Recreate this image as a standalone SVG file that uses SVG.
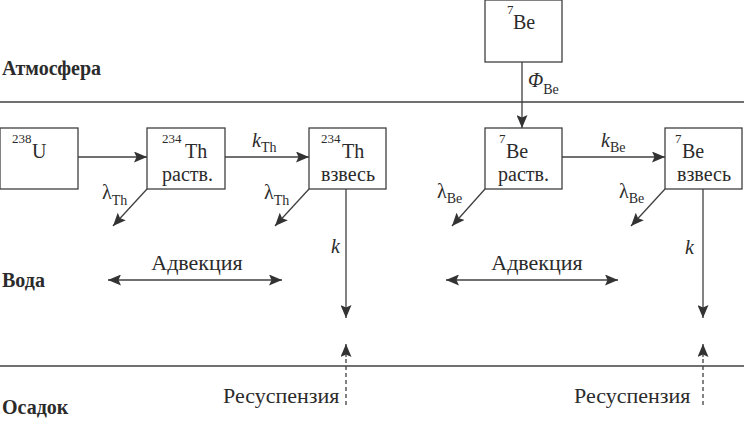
<svg xmlns="http://www.w3.org/2000/svg" width="744" height="431" viewBox="0 0 744 431" font-family="Liberation Serif, DejaVu Serif, serif">
<style>
text{fill:#2b2b2b}
.m{font-size:20px}
.sup{font-size:13px}
.sub{font-size:14px}
.lab{font-size:20px}
.big{font-size:22px}
.it{font-style:italic}
.zone{font-size:20px;font-weight:bold}
.box{fill:#fff;stroke:#404040;stroke-width:1.3}
.ln{stroke:#404040;stroke-width:1.3;fill:none}
.dash{stroke:#404040;stroke-width:1.3;fill:none;stroke-dasharray:4 3}
</style>
<defs>
<marker id="ah" viewBox="0 0 13 11" refX="13" refY="5.5" markerWidth="13" markerHeight="11" markerUnits="userSpaceOnUse" orient="auto-start-reverse">
<path d="M0,0 L13,5.5 L0,11 L2.5,5.5 z" fill="#333"/>
</marker>
</defs>

<g id="layers">
<line class="ln" x1="0" y1="102" x2="744" y2="102"/>
<line class="ln" x1="0" y1="366" x2="744" y2="366"/>
<text class="zone" x="2" y="75">Атмосфера</text>
<text class="zone" x="2" y="287">Вода</text>
<text class="zone" x="2" y="414">Осадок</text>
</g>

<g id="connectors">
<line class="ln" x1="78" y1="157" x2="147" y2="157" marker-end="url(#ah)"/>
<line class="ln" x1="225" y1="157" x2="309" y2="157" marker-end="url(#ah)"/>
<line class="ln" x1="147" y1="189" x2="113" y2="226" marker-end="url(#ah)"/>
<line class="ln" x1="309" y1="189" x2="275" y2="226" marker-end="url(#ah)"/>
<line class="ln" x1="346" y1="189" x2="346" y2="318" marker-end="url(#ah)"/>
<line class="ln" x1="522" y1="62" x2="522" y2="128" marker-end="url(#ah)"/>
<line class="ln" x1="562" y1="157" x2="665" y2="157" marker-end="url(#ah)"/>
<line class="ln" x1="485" y1="189" x2="452" y2="226" marker-end="url(#ah)"/>
<line class="ln" x1="665" y1="189" x2="631" y2="226" marker-end="url(#ah)"/>
<line class="ln" x1="703" y1="189" x2="703" y2="318" marker-end="url(#ah)"/>
<line class="ln" x1="108" y1="280" x2="282" y2="280" marker-start="url(#ah)" marker-end="url(#ah)"/>
<line class="ln" x1="446" y1="280" x2="618" y2="280" marker-start="url(#ah)" marker-end="url(#ah)"/>
<line class="dash" x1="346" y1="405" x2="346" y2="356"/>
<line class="ln" x1="346" y1="357" x2="346" y2="344" marker-end="url(#ah)"/>
<line class="dash" x1="703" y1="405" x2="703" y2="356"/>
<line class="ln" x1="703" y1="357" x2="703" y2="344" marker-end="url(#ah)"/>

<text class="lab it" x="252" y="147">k<tspan class="sub" font-style="normal" y="152">Th</tspan></text>
<text class="lab" x="102" y="199">λ<tspan class="sub" y="205">Th</tspan></text>
<text class="lab" x="264" y="199">λ<tspan class="sub" y="205">Th</tspan></text>
<text class="lab it" x="331" y="253">k</text>
<text class="lab it" x="528" y="87">Φ<tspan class="sub" font-style="normal" y="94">Be</tspan></text>
<text class="lab it" x="601" y="147">k<tspan class="sub" font-style="normal" y="152">Be</tspan></text>
<text class="lab" x="437" y="198">λ<tspan class="sub" y="203">Be</tspan></text>
<text class="lab" x="619" y="198">λ<tspan class="sub" y="203">Be</tspan></text>
<text class="lab it" x="685" y="254">k</text>
<text class="big" x="197" y="270" text-anchor="middle">Адвекция</text>
<text class="big" x="537" y="270" text-anchor="middle">Адвекция</text>
<text class="big" x="223" y="403">Ресуспензия</text>
<text class="big" x="574" y="403">Ресуспензия</text>
</g>

<g id="U238">
<rect class="box" x="0" y="128" width="78" height="61"/>
<text class="m"><tspan class="sup" x="12" y="143">238</tspan><tspan x="32" y="158">U</tspan></text>
</g>
<g id="Th234_diss">
<rect class="box" x="147" y="128" width="78" height="61"/>
<text class="m"><tspan class="sup" x="162" y="143">234</tspan><tspan x="185" y="158">Th</tspan></text>
<text class="m" x="162" y="181">раств.</text>
</g>
<g id="Th234_susp">
<rect class="box" x="309" y="128" width="77" height="61"/>
<text class="m"><tspan class="sup" x="321" y="143">234</tspan><tspan x="342" y="158">Th</tspan></text>
<text class="m" x="321" y="181">взвесь</text>
</g>
<g id="Be7_atm">
<rect class="box" x="485" y="0" width="77" height="62"/>
<text class="m"><tspan class="sup" x="507" y="14">7</tspan><tspan x="513" y="29">Be</tspan></text>
</g>
<g id="Be7_diss">
<rect class="box" x="485" y="128" width="77" height="61"/>
<text class="m"><tspan class="sup" x="499" y="143">7</tspan><tspan x="506" y="158">Be</tspan></text>
<text class="m" x="498" y="181">раств.</text>
</g>
<g id="Be7_susp">
<rect class="box" x="665" y="128" width="77" height="61"/>
<text class="m"><tspan class="sup" x="675" y="143">7</tspan><tspan x="682" y="158">Be</tspan></text>
<text class="m" x="677" y="181">взвесь</text>
</g>
</svg>
